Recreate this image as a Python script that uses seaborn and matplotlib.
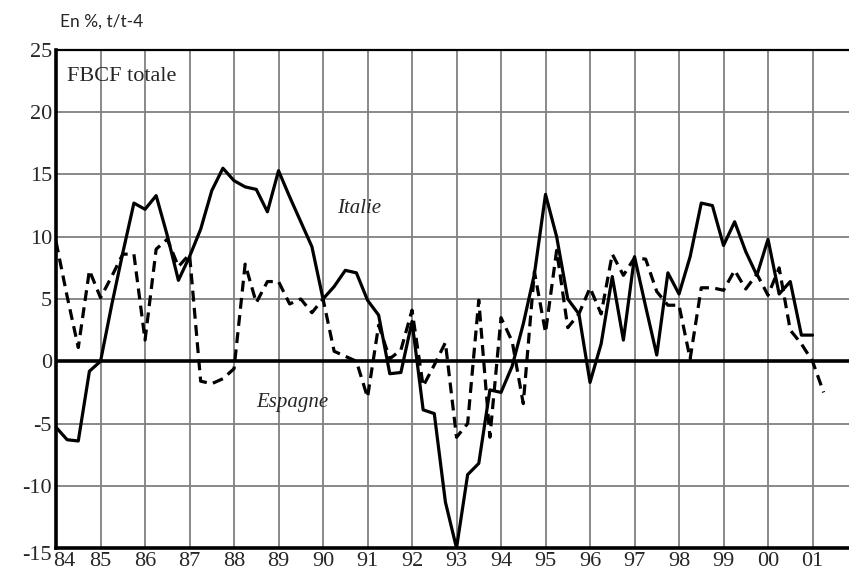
import numpy as np
import pandas as pd
import matplotlib
matplotlib.use("Agg")
import matplotlib.pyplot as plt
import matplotlib.transforms as mtransforms
import seaborn as sns

# quarterly growth of total GFCF, % y/y, first quarter = 1984 Q1
START_YEAR = 84

italie = [
    -5.3, -6.3, -6.4, -0.8,     # 84
    0.0, 4.5, 8.7, 12.7,        # 85
    12.2, 13.3, 10.1, 6.5,      # 86
    8.4, 10.6, 13.7, 15.5,      # 87
    14.5, 14.0, 13.8, 12.0,     # 88
    15.3, 13.2, 11.2, 9.2,      # 89
    5.0, 6.0, 7.3, 7.1,         # 90
    4.9, 3.7, -1.0, -0.9,       # 91
    3.2, -3.9, -4.2, -11.3,     # 92
    -15.0, -9.1, -8.2, -2.3,    # 93
    -2.5, -0.4, 3.0, 7.0,       # 94
    13.4, 10.0, 5.0, 3.8,       # 95
    -1.7, 1.4, 6.8, 1.7,        # 96
    8.4, 4.4, 0.5, 7.1,         # 97
    5.4, 8.4, 12.7, 12.5,       # 98
    9.3, 11.2, 8.8, 6.9,        # 99
    9.8, 5.4, 6.4, 2.1,         # 00
    2.1,                        # 01
]

espagne = [
    9.6, 5.2, 1.1, 7.3,         # 84
    5.1, 6.8, 8.6, 8.6,         # 85
    1.7, 9.0, 9.8, 7.6,         # 86
    8.6, -1.6, -1.8, -1.4,      # 87
    -0.6, 7.8, 4.7, 6.4,        # 88
    6.4, 4.6, 5.0, 3.9,         # 89
    5.0, 0.8, 0.4, 0.0,         # 90
    -2.9, 2.9, 0.2, 0.9,        # 91
    4.1, -2.0, -0.3, 1.5,       # 92
    -6.1, -5.0, 4.9, -6.1,      # 93
    3.5, 1.6, -3.4, 7.2,        # 94
    2.3, 8.9, 2.7, 3.8,         # 95
    5.9, 3.8, 8.6, 6.9,         # 96
    8.3, 8.2, 5.6, 4.5,         # 97
    4.5, 0.2, 5.9, 5.9,         # 98
    5.7, 7.3, 5.8, 7.0,         # 99
    5.3, 7.5, 2.5, 1.4,         # 00
    0.0, -2.5,                  # 01
]

year_ticks = list(range(84, 102))
year_labels = [f"{y % 100:02d}" for y in year_ticks]
y_ticks = [-15, -10, -5, 0, 5, 10, 15, 20, 25]

df_it = pd.DataFrame({"t": START_YEAR + np.arange(len(italie)) / 4, "v": italie})
df_es = pd.DataFrame({"t": START_YEAR + np.arange(len(espagne)) / 4, "v": espagne})

sns.set_style("white")
plt.rcParams["font.family"] = ["Liberation Serif", "DejaVu Serif"]
plt.rcParams["axes.unicode_minus"] = False

fig = plt.figure(figsize=(8.49, 5.80), dpi=100)
ax = fig.add_axes([0.066, 0.055, 0.934, 0.859])

sns.lineplot(data=df_it, x="t", y="v", ax=ax, color="black", lw=2.3)
sns.lineplot(data=df_es, x="t", y="v", ax=ax, color="black", lw=2.3,
             linestyle=(0, (3.4, 2.0)))

ax.axhline(0, color="black", lw=2.6, zorder=3)

ax.set_xlim(84, 101.82)
ax.set_ylim(-15, 25)
ax.set_xticks(year_ticks)
ax.set_xticklabels(year_labels)
ax.set_yticks(y_ticks)
ax.set_xlabel("")
ax.set_ylabel("")
ax.grid(True, color="#808080", lw=1.3)
ax.set_axisbelow(True)
ax.tick_params(axis="both", labelsize=16, length=0, pad=3)

# first labels sit off the corner, as in the original layout
first_x = ax.get_xticklabels()[0]
first_x.set_transform(first_x.get_transform() +
                      mtransforms.ScaledTranslation(8 / 100, 0, fig.dpi_scale_trans))
first_y = ax.get_yticklabels()[0]
first_y.set_transform(first_y.get_transform() +
                      mtransforms.ScaledTranslation(0, -5 / 100, fig.dpi_scale_trans))

for side in ["left", "bottom"]:
    ax.spines[side].set_linewidth(2.6)
    ax.spines[side].set_color("black")
ax.spines["top"].set_linewidth(1.6)
ax.spines["top"].set_color("black")
ax.spines["right"].set_visible(False)

ax.text(84.24, 22.9, "FBCF totale", fontsize=16, va="center", ha="left")
ax.text(90.8, 12.3, "Italie", fontsize=15, style="italic", ha="center", va="center")
ax.text(89.3, -3.3, "Espagne", fontsize=15, style="italic", ha="center", va="center")

fig.text(60 / 849, 1 - 27 / 580, "En %, t/t-4", fontsize=12.5,
         family=["Lato", "DejaVu Sans"], va="baseline", ha="left")

fig.savefig("out.png", dpi=100)
